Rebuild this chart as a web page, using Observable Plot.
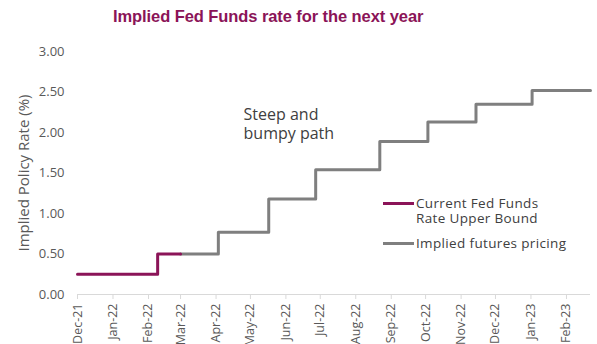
<!DOCTYPE html>
<html>
<head>
<meta charset="utf-8">
<script src="https://cdn.jsdelivr.net/npm/d3@7"></script>
<script src="https://cdn.jsdelivr.net/npm/@observablehq/plot@0.6"></script>
<style>
  body { margin: 0; background: #fff; }
  #wrap { position: relative; width: 597px; height: 344px; overflow: hidden; font-family: "Open Sans", sans-serif; }
  #title { position: absolute; left: 113px; top: 7px; font-family: "Liberation Sans", Arial, sans-serif; font-weight: bold; font-size: 16.5px; letter-spacing: -0.08px; color: #8B1458; white-space: nowrap; }
  #chart { position: absolute; left: 0; top: 40px; }
  .leg { position: absolute; left: 383px; display: flex; align-items: flex-start; font-size: 13.5px; letter-spacing: 0.35px; color: #404040; line-height: 15px; }
  .leg span { display: block; height: 15px; }
  .sw { width: 31px; height: 3px; margin-top: 6px; margin-right: 2px; }
</style>
</head>
<body>
<div id="wrap">
  <div id="title">Implied Fed Funds rate for the next year</div>
  <div id="chart"></div>
  <div class="leg" style="top:196px"><div class="sw" style="background:#8B1458"></div><div><span>Current Fed Funds</span><span>Rate Upper Bound</span></div></div>
  <div class="leg" style="top:236px"><div class="sw" style="background:#7F7F7F"></div><div><span>Implied futures pricing</span></div></div>
</div>
<script>
// Current Fed Funds rate upper bound (actual)
const currentDates = ["2021-12-01", "2022-02-09", "2022-03-01"];
const currentValues = [0.25, 0.50, 0.50];
// Implied futures pricing
const impliedDates = ["2022-03-01", "2022-04-03", "2022-05-17", "2022-06-27", "2022-08-22", "2022-10-03", "2022-11-14", "2023-01-02", "2023-02-22"];
const impliedValues = [0.50, 0.77, 1.18, 1.54, 1.89, 2.13, 2.35, 2.52, 2.52];
// axis ticks
const monthTicks = ["2021-12-01","2022-01-01","2022-02-01","2022-03-01","2022-04-01","2022-05-01","2022-06-01","2022-07-01","2022-08-01","2022-09-01","2022-10-01","2022-11-01","2022-12-01","2023-01-01","2023-02-01"];
const yTicks = [0, 0.5, 1, 1.5, 2, 2.5, 3];
const annotation = { date: "2022-04-25", value: 2.31, text: "Steep and\nbumpy path" };

const parse = d3.utcParse("%Y-%m-%d");
const current = currentDates.map((d, i) => ({ date: parse(d), value: currentValues[i] }));
const implied = impliedDates.map((d, i) => ({ date: parse(d), value: impliedValues[i] }));
const ticks = monthTicks.map(parse);

const chart = Plot.plot({
  width: 597,
  height: 304,
  marginTop: 11,
  marginBottom: 50,
  marginLeft: 77,
  marginRight: 7,
  style: { fontFamily: "Open Sans, sans-serif", background: "transparent", overflow: "visible" },
  x: { type: "utc", domain: [parse("2021-12-01"), parse("2023-02-22")] },
  y: { domain: [0, 3] },
  marks: [
    Plot.ruleY([0], { stroke: "#d9d9d9", strokeWidth: 1 }),
    Plot.axisX({ ticks, tickSize: 5, stroke: "#d9d9d9", text: null, label: null }),
    Plot.axisX({ ticks, tickSize: 0, tickPadding: 9, tickRotate: -90, tickFormat: d3.utcFormat("%b-%y"), fill: "#595959", fontSize: 12.5, label: null }),
    Plot.axisY({ ticks: yTicks, tickSize: 0, tickPadding: 13, tickFormat: d3.format(".2f"), fill: "#595959", fontSize: 13, label: null }),
    Plot.text(["Implied Policy Rate (%)"], { frameAnchor: "left", dx: -53, rotate: -90, fill: "#595959", fontSize: 15, letterSpacing: 0.3, textAnchor: "middle" }),
    Plot.line(implied, { x: "date", y: "value", curve: "step-after", stroke: "#7F7F7F", strokeWidth: 3 }),
    Plot.line(current, { x: "date", y: "value", curve: "step-after", stroke: "#8B1458", strokeWidth: 3 }),
    Plot.text([annotation], { x: d => parse(d.date), y: "value", text: "text", textAnchor: "start", lineAnchor: "top", lineHeight: 1.15, fontSize: 16, letterSpacing: 0.6, fill: "#404040" })
  ]
});
document.getElementById("chart").appendChild(chart);
</script>
</body>
</html>
